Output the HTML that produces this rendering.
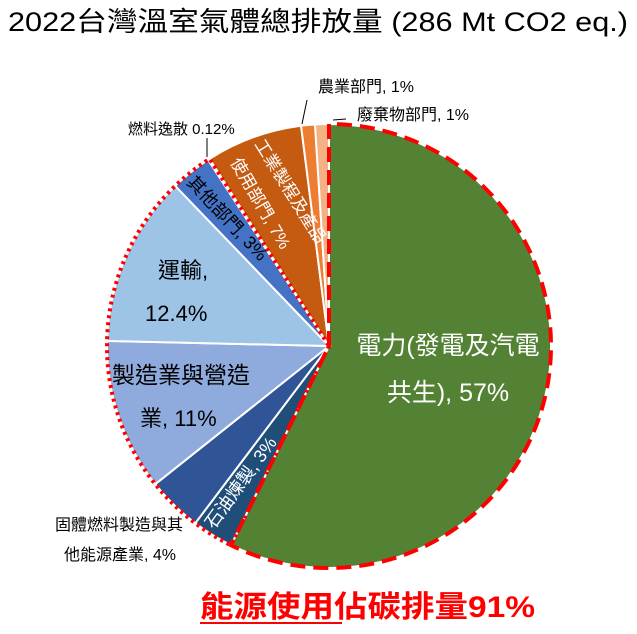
<!DOCTYPE html><html><head><meta charset="utf-8"><style>
body{margin:0;background:#fff;width:637px;height:629px;overflow:hidden;font-family:"Liberation Sans","Noto Sans CJK TC",sans-serif}
text{font-family:"Liberation Sans","Noto Sans CJK TC",sans-serif}
</style></head><body>
<svg id="s" width="637" height="629" xmlns="http://www.w3.org/2000/svg">
<text x="8" y="31" font-size="27" textLength="620" lengthAdjust="spacingAndGlyphs" fill="#000">2022台灣溫室氣體總排放量 (286 Mt CO2 eq.)</text>
<g id="pie"></g>
<g font-size="25" fill="#fff">
<text x="448" y="354" text-anchor="middle">電力(發電及汽電</text>
<text x="448" y="401" text-anchor="middle">共生), 57%</text>
</g>
<g font-size="22" fill="#000">
<text x="158" y="278">運輸,</text>
<text x="145" y="321">12.4%</text>
<text x="112" y="383" font-size="23">製造業與營造</text>
<text x="140" y="426">業, 11%</text>
</g>
<text transform="translate(214,530) rotate(-54)" font-size="18" fill="#fff">石油煉製, 3%</text>
<text transform="translate(186,183) rotate(47)" font-size="18" fill="#000">其他部門, 3%</text>
<text transform="translate(230,162) rotate(60)" font-size="17" fill="#fff">使用部門, 7%</text>
<text transform="translate(254,144) rotate(58)" font-size="17" fill="#fff">工業製程及產品</text>
<g font-size="16" fill="#000">
<text x="128" y="134" font-size="15">燃料逸散 0.12%</text>
<text x="318" y="92">農業部門, 1%</text>
<text x="357" y="120">廢棄物部門, 1%</text>
<text x="55" y="530">固體燃料製造與其</text>
<text x="64" y="560">他能源產業, 4%</text>
</g>
<line x1="307" y1="100" x2="302" y2="124" stroke="#000"/>
<line x1="333" y1="120" x2="346" y2="119" stroke="#000"/>
<line x1="207" y1="138" x2="207" y2="157" stroke="#000"/>
<text x="200" y="617" font-size="30" font-weight="bold" fill="#f00" textLength="335" lengthAdjust="spacingAndGlyphs">能源使用佔碳排量91%</text>
<line x1="200" y1="623" x2="342" y2="623" stroke="#f00" stroke-width="2"/>
</svg>
<script>
var cx=329,cy=346,r=222;
var d=[[57,"#548235"],[3,"#1F4E79"],[4,"#2F5597"],[11,"#8FAADC"],[12.4,"#9DC3E6"],[3,"#4472C4"],[0.12,"#4472C4"],[7,"#C55A11"],[1,"#ED7D31"],[1,"#F4B183"]];
var tot=0;d.forEach(function(a){tot+=a[0]});
function pt(a,rr){a=a*Math.PI/180;return [cx+rr*Math.sin(a),cy-rr*Math.cos(a)]}
function sec(a0,a1,rr){var p=pt(a0,rr),q=pt(a1,rr);return "M"+cx+","+cy+"L"+p[0]+","+p[1]+"A"+rr+","+rr+" 0 "+((a1-a0)>180?1:0)+" 1 "+q[0]+","+q[1]+"Z"}
var h="",a=0,angs=[];
d.forEach(function(x){var b=a+x[0]/tot*360;angs.push([a,b]);h+='<path d="'+sec(a,b,r)+'" fill="'+x[1]+'" stroke="#fff" stroke-width="2"/>';a=b});
h+='<path d="'+sec(angs[1][0],angs[6][1],r)+'" fill="none" stroke="#f00" stroke-width="4" stroke-dasharray="3,4"/>';
h+='<path d="'+sec(0,angs[0][1],r)+'" fill="none" stroke="#f00" stroke-width="4" stroke-dasharray="15,8"/>';
document.getElementById("pie").innerHTML=h;
</script>
</body></html>
